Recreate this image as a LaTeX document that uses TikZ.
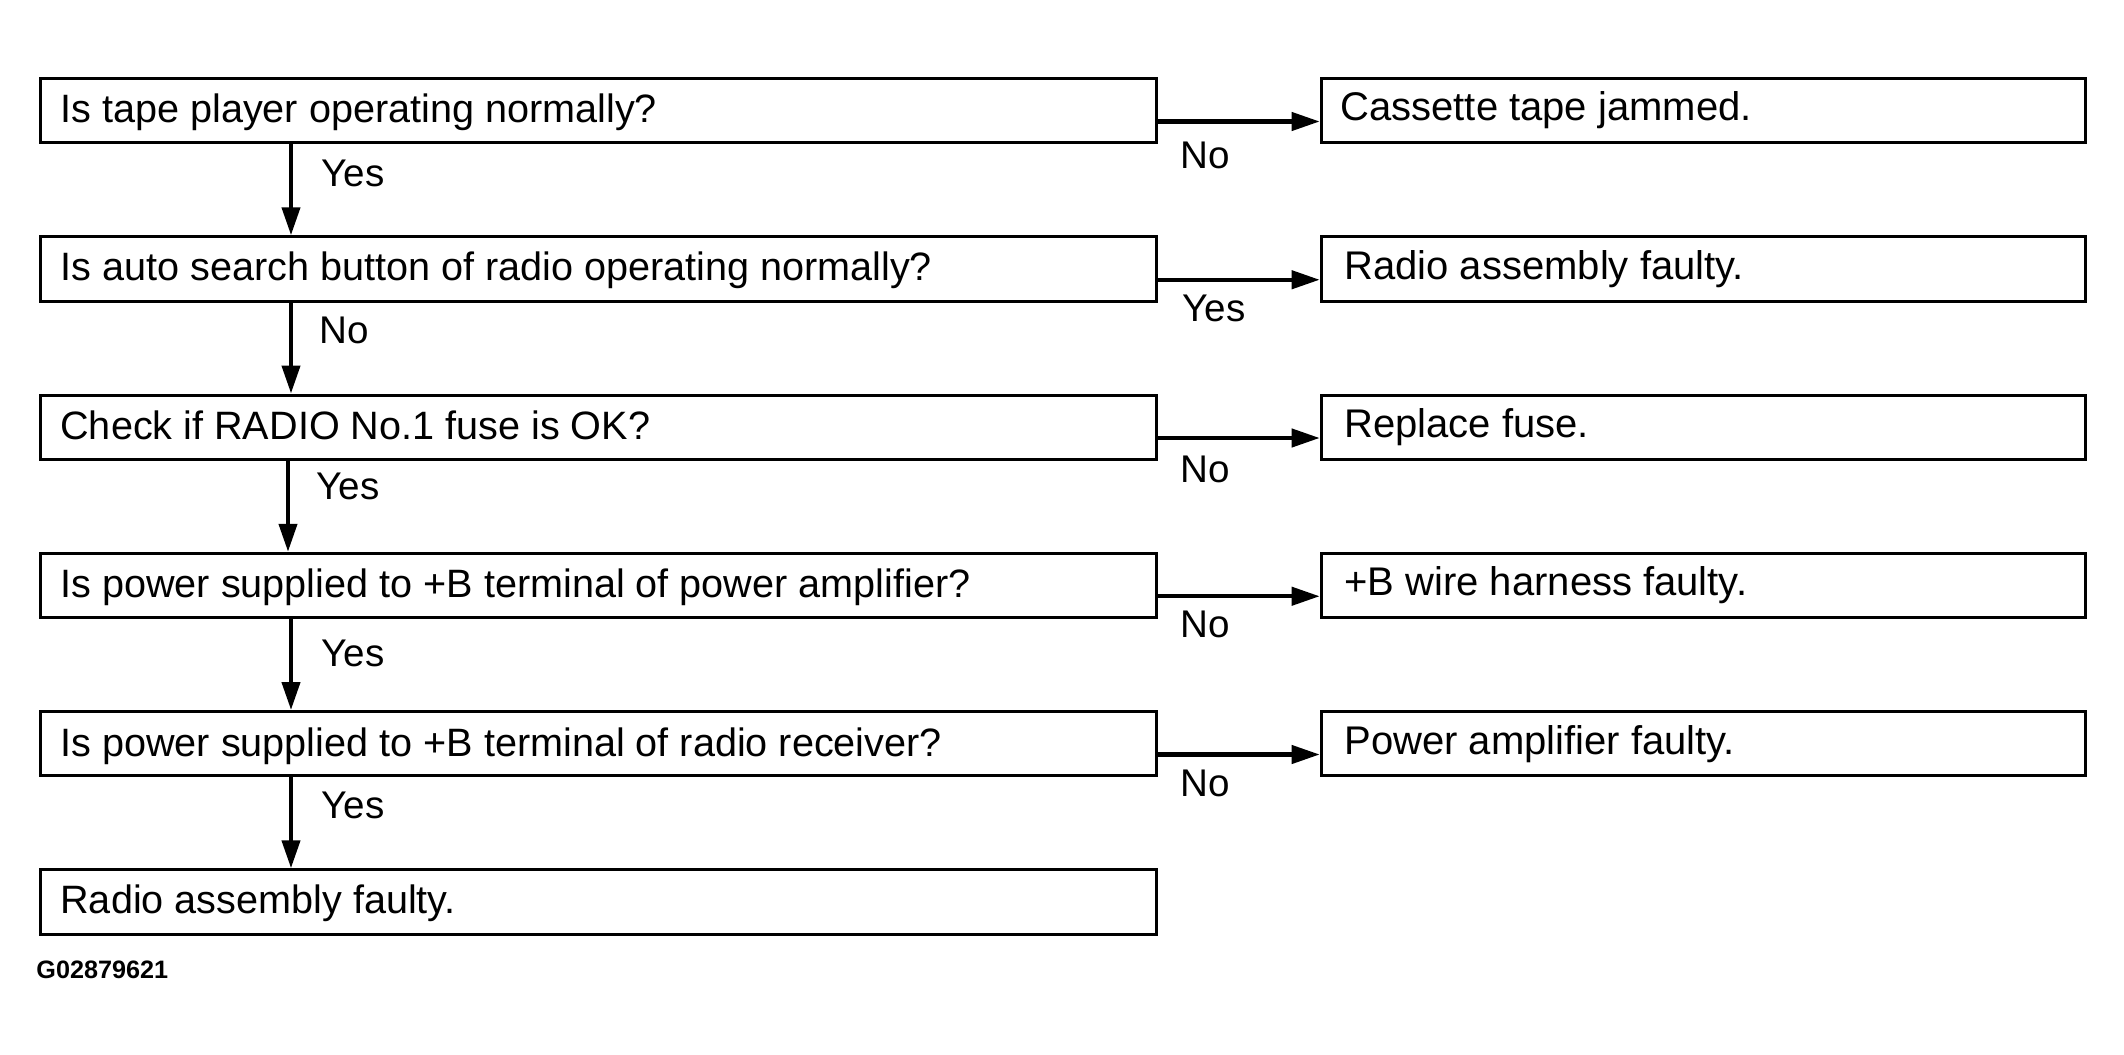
\documentclass[tikz,border=0pt]{standalone}
\usepackage{fontspec}
\setmainfont{Liberation Sans}
\usetikzlibrary{arrows.meta}
\begin{document}
\begin{tikzpicture}[x=0.5pt,y=-0.5pt,
  box/.style={draw, line width=1.5pt, rectangle, inner sep=0pt, minimum height=32.2pt, anchor=north west},
  lbox/.style={box, minimum width=557.85pt},
  rbox/.style={box, minimum width=382.15pt},
  qtext/.style={anchor=base west, inner sep=0pt, font=\fontsize{19.8pt}{20pt}\selectfont},
  atext/.style={anchor=base west, inner sep=0pt, font=\fontsize{20pt}{20pt}\selectfont},
  lab/.style={anchor=base west, inner sep=0pt, font=\fontsize{19.3pt}{20pt}\selectfont},
  arr/.style={line width=2.1pt, -{Triangle[length=14pt,width=9pt]}},
]
\useasboundingbox (0,0) rectangle (2124,1054);

% left boxes
\node[lbox] (q1) at (39,77) {};
\node[lbox] (q2) at (39,235.25) {};
\node[lbox] (q3) at (39,393.5) {};
\node[lbox] (q4) at (39,551.75) {};
\node[lbox] (q5) at (39,710) {};
\node[lbox] (q6) at (39,868.25) {};

% right boxes
\node[rbox] (a1) at (1319.7,77) {};
\node[rbox] (a2) at (1319.7,235.25) {};
\node[rbox] (a3) at (1319.7,393.5) {};
\node[rbox] (a4) at (1319.7,551.75) {};
\node[rbox] (a5) at (1319.7,710) {};

% left texts
\node[qtext] (tq1) at (60,122) {Is tape player operating normally?};
\node[qtext] (tq2) at (60,280.25) {Is auto search button of radio operating normally?};
\node[qtext] (tq3) at (60,439.5) {Check if RADIO No.1 fuse is OK?};
\node[qtext] (tq4) at (60,597.75) {Is power supplied to +B terminal of power amplifier?};
\node[qtext] (tq5) at (60,756) {Is power supplied to +B terminal of radio receiver?};
\node[qtext] (tq6) at (60,913.25) {Radio assembly faulty.};

% right texts
\node[atext] (ta1) at (1340,120) {Cassette tape jammed.};
\node[atext] (ta2) at (1344,279.25) {Radio assembly faulty.};
\node[atext] (ta3) at (1344,437.5) {Replace fuse.};
\node[atext] (ta4) at (1344,595.75) {+B wire harness faulty.};
\node[atext] (ta5) at (1344,754) {Power amplifier faulty.};

% vertical arrows
\draw[arr] ([xshift=126pt]q1.south west) -- ([xshift=126pt]q2.north west);
\draw[arr] ([xshift=126pt]q2.south west) -- ([xshift=126pt]q3.north west);
\draw[arr] ([xshift=124.5pt]q3.south west) -- ([xshift=124.5pt]q4.north west);
\draw[arr] ([xshift=126pt]q4.south west) -- ([xshift=126pt]q5.north west);
\draw[arr] ([xshift=126pt]q5.south west) -- ([xshift=126pt]q6.north west);

% horizontal arrows
\draw[arr] ([yshift=-5.4pt]q1.east) -- ([yshift=-5.4pt]a1.west);
\draw[arr] ([yshift=-5.4pt]q2.east) -- ([yshift=-5.4pt]a2.west);
\draw[arr] ([yshift=-5.4pt]q3.east) -- ([yshift=-5.4pt]a3.west);
\draw[arr] ([yshift=-5.4pt]q4.east) -- ([yshift=-5.4pt]a4.west);
\draw[arr] ([yshift=-5.4pt]q5.east) -- ([yshift=-5.4pt]a5.west);

% vertical labels
\node[lab] (lv1) at (321,186) {Yes};
\node[lab] (lv2) at (319,343.25) {No};
\node[lab] (lv3) at (316,499.5) {Yes};
\node[lab] (lv4) at (321,666.75) {Yes};
\node[lab] (lv5) at (321,818) {Yes};

% horizontal labels
\node[lab] (lh1) at (1180,169) {No};
\node[lab] (lh2) at (1182,321.25) {Yes};
\node[lab] (lh3) at (1180,482.5) {No};
\node[lab] (lh4) at (1180,637.75) {No};
\node[lab] (lh5) at (1180,796) {No};

% figure id
\node[anchor=base west, inner sep=0pt, font=\bfseries\fontsize{12.6pt}{13pt}\selectfont] (gid) at (36,978) {G02879621};
\end{tikzpicture}
\end{document}
